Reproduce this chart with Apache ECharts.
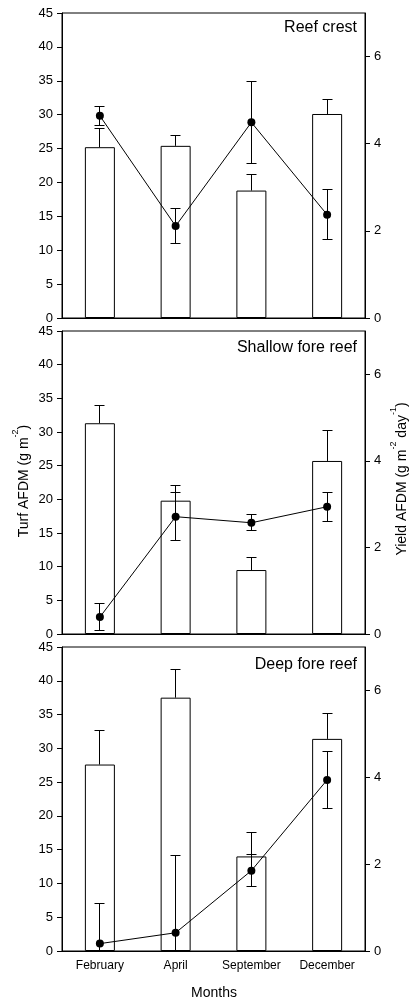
<!DOCTYPE html>
<html>
<head>
<meta charset="utf-8">
<script src="https://cdn.jsdelivr.net/npm/echarts@6/dist/echarts.min.js"></script>
<style>
  html, body { margin: 0; padding: 0; background: #fff; }
  #chart { width: 410px; height: 1000px; }
</style>
</head>
<body>
<div id="chart"></div>
<script>
// Sampling months and site names
const months = ['February', 'April', 'September', 'December'];
const siteNames = ['Reef crest', 'Shallow fore reef', 'Deep fore reef'];

// Turf AFDM (g m-2): means and standard errors (bars)
const crestTurf = [25.2, 25.4, 18.8, 30.1];
const crestTurfSE = [2.8, 1.6, 2.4, 2.2];
const shallowTurf = [31.3, 19.8, 9.5, 25.7];
const shallowTurfSE = [2.7, 2.25, 1.8, 4.5];
const deepTurf = [27.6, 37.5, 14.0, 31.4];
const deepTurfSE = [5.1, 4.2, 3.5, 3.7];

// Yield AFDM (g m-2 day-1): means and standard errors (points)
const crestYield = [4.64, 2.11, 4.49, 2.37];
const crestYieldSE = [0.22, 0.41, 0.94, 0.57];
const shallowYield = [0.39, 2.71, 2.57, 2.94];
const shallowYieldSE = [0.32, 0.56, 0.18, 0.33];
const deepYield = [0.17, 0.42, 1.85, 3.94];
const deepYieldSE = [0.93, 1.78, 0.37, 0.65];

// Axis ticks
const turfTicks = { min: 0, max: 45, interval: 5 };
const yieldTickValues = [0, 2, 4, 6];
const yieldMax = 7;

const panels = [
  { title: siteNames[0], turf: crestTurf, turfSE: crestTurfSE, yld: crestYield, yldSE: crestYieldSE },
  { title: siteNames[1], turf: shallowTurf, turfSE: shallowTurfSE, yld: shallowYield, yldSE: shallowYieldSE },
  { title: siteNames[2], turf: deepTurf, turfSE: deepTurfSE, yld: deepYield, yldSE: deepYieldSE }
];

const FONT = '"Liberation Sans", Arial, Helvetica, sans-serif';
const INK = '#000';
const grids = [
  { top: 13, height: 305 },
  { top: 331, height: 303 },
  { top: 647, height: 304 }
];
const titleY = [28, 348, 665];

function crisp(v) { return Math.round(v - 0.5) + 0.5; }

function segment(x1, y1, x2, y2) {
  return {
    type: 'line',
    shape: { x1: x1, y1: y1, x2: x2, y2: y2 },
    style: { stroke: INK, lineWidth: 1 }
  };
}

// Upper error whisker on top of each bar
function barErrorItem(params, api) {
  const i = api.value(0), m = api.value(1), se = api.value(2);
  const p0 = api.coord([i, m]);
  const p1 = api.coord([i, m + se]);
  const x = crisp(p0[0]);
  const yTop = crisp(p1[1]);
  return {
    type: 'group',
    children: [
      segment(x, p0[1], x, yTop),
      segment(x - 5, yTop, x + 5, yTop)
    ]
  };
}

// Symmetric error whisker around each point (clipped at zero)
function pointErrorItem(params, api) {
  const i = api.value(0), m = api.value(1), se = api.value(2);
  const low = m - se;
  const pHi = api.coord([i, m + se]);
  const pLo = api.coord([i, Math.max(low, 0)]);
  const x = crisp(pHi[0]);
  const yHi = crisp(pHi[1]);
  const yLo = crisp(pLo[1]);
  const children = [
    segment(x, yHi, x, yLo),
    segment(x - 5, yHi, x + 5, yHi)
  ];
  if (low >= 0) children.push(segment(x - 5, yLo, x + 5, yLo));
  return { type: 'group', children: children };
}

const option = {
  animation: false,
  backgroundColor: '#fff',
  textStyle: { fontFamily: FONT, color: INK },
  grid: grids.map(g => ({
    left: 62, width: 303, top: g.top, height: g.height,
    show: true, borderColor: INK, borderWidth: 1, backgroundColor: 'transparent'
  })),
  xAxis: grids.map((g, k) => ({
    type: 'category',
    gridIndex: k,
    data: months,
    boundaryGap: true,
    axisLine: { lineStyle: { color: INK, width: 1 } },
    axisTick: { alignWithLabel: true, length: 4, lineStyle: { color: INK } },
    axisLabel: { show: k === 2, interval: 0, fontSize: 12, color: INK, margin: 9, fontFamily: FONT },
    splitLine: { show: false }
  })),
  yAxis: [],
  series: [],
  graphic: []
};

panels.forEach((p, k) => {
  option.yAxis.push({
    type: 'value', gridIndex: k, position: 'left',
    min: turfTicks.min, max: turfTicks.max, interval: turfTicks.interval,
    axisLine: { show: true, lineStyle: { color: INK } },
    axisTick: { show: true, length: 5, lineStyle: { color: INK } },
    axisLabel: { fontSize: 13, color: INK, margin: 9, fontFamily: FONT },
    splitLine: { show: false }
  });
  option.yAxis.push({
    type: 'value', gridIndex: k, position: 'right',
    min: 0, max: yieldMax,
    axisLine: { show: true, lineStyle: { color: INK } },
    axisTick: { show: true, length: 5, customValues: yieldTickValues, lineStyle: { color: INK } },
    axisLabel: { fontSize: 13, color: INK, margin: 9, fontFamily: FONT, customValues: yieldTickValues },
    splitLine: { show: false }
  });

  const yL = 2 * k, yR = 2 * k + 1;
  option.series.push({
    type: 'bar', name: 'Turf ' + p.title,
    xAxisIndex: k, yAxisIndex: yL,
    data: p.turf, barWidth: 30,
    itemStyle: { color: '#fff', borderColor: INK, borderWidth: 1 },
    z: 2
  });
  option.series.push({
    type: 'custom', name: 'Turf SE ' + p.title,
    xAxisIndex: k, yAxisIndex: yL,
    data: p.turf.map((v, i) => [i, v, p.turfSE[i]]),
    encode: { x: 0, y: 1 },
    renderItem: barErrorItem,
    clip: false,
    z: 3
  });
  option.series.push({
    type: 'custom', name: 'Yield SE ' + p.title,
    xAxisIndex: k, yAxisIndex: yR,
    data: p.yld.map((v, i) => [i, v, p.yldSE[i]]),
    encode: { x: 0, y: 1 },
    renderItem: pointErrorItem,
    clip: false,
    z: 4
  });
  option.series.push({
    type: 'line', name: 'Yield ' + p.title,
    xAxisIndex: k, yAxisIndex: yR,
    data: p.yld,
    symbol: 'circle', symbolSize: 8,
    itemStyle: { color: INK },
    lineStyle: { color: INK, width: 1 },
    z: 5
  });

  option.graphic.push({
    type: 'text', x: 357, y: titleY[k],
    style: { text: p.title, font: '16px ' + FONT, fill: INK, align: 'right', verticalAlign: 'middle' }
  });
});

// Axis titles
const richName = {
  a: { fontSize: 14, fontFamily: FONT, color: INK, lineHeight: 20, verticalAlign: 'bottom' },
  s: { fontSize: 9, fontFamily: FONT, color: INK, lineHeight: 10, verticalAlign: 'top' }
};
option.graphic.push({
  type: 'text', x: 21, y: 481, rotation: Math.PI / 2,
  style: {
    text: '{a|Turf AFDM (g m}{s|-2}{a|)}',
    rich: richName, align: 'center', verticalAlign: 'middle'
  }
});
option.graphic.push({
  type: 'text', x: 399, y: 479, rotation: Math.PI / 2,
  style: {
    text: '{a|Yield AFDM (g m}{s|-2}{a| day}{s|-1}{a|)}',
    rich: richName, align: 'center', verticalAlign: 'middle'
  }
});
option.graphic.push({
  type: 'text', x: 214, y: 993,
  style: { text: 'Months', font: '14px ' + FONT, fill: INK, align: 'center', verticalAlign: 'middle' }
});

const chart = echarts.init(document.getElementById('chart'), null, { renderer: 'canvas' });
chart.setOption(option);
</script>
</body>
</html>
